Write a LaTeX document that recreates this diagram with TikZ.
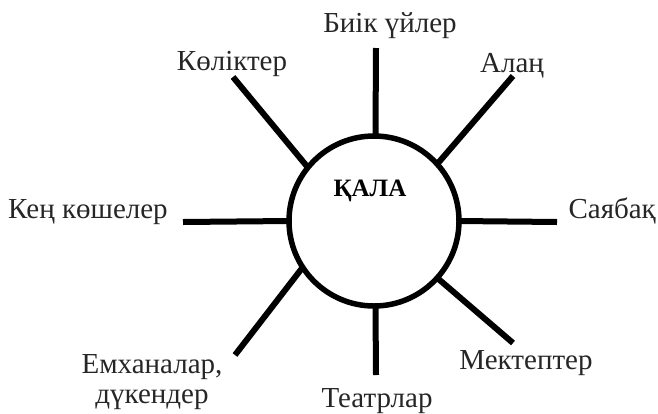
\documentclass[tikz,border=0pt]{standalone}
\usepackage{fontspec}
\setmainfont{Liberation Serif}
\usetikzlibrary{positioning}

\begin{document}
\begin{tikzpicture}[x=1pt, y=-1pt, every node/.style={font=\fontsize{29}{30}\selectfont, text=black!85, inner sep=0pt}, spoke/.style={line width=6pt}, hub/.style={draw, circle, line width=5.5pt, minimum size=170pt, outer sep=0pt}, word/.style={anchor=base}]
		\useasboundingbox (0,0) rectangle (658,413);
		% Centre circle
		\node[hub] (kala) at (374,221) {};
		\node[word, font=\fontsize{25}{27}\selectfont\bfseries, text=black] (kalaText) at (370,196) {ҚАЛА};
		% Free ends of the spokes
		\coordinate (eTop) at (376,48);
		\coordinate (eTopRight) at (513,76);
		\coordinate (eRight) at (557,222);
		\coordinate (eBotRight) at (513,343);
		\coordinate (eBot) at (376,375);
		\coordinate (eBotLeft) at (235,355);
		\coordinate (eLeft) at (183,222);
		\coordinate (eTopLeft) at (233,77);
		% Spokes
		\draw[spoke] (kala.89) -- (eTop);
		\draw[spoke] (kala.42) -- (eTopRight);
		\draw[spoke] (kala.0) -- (eRight);
		\draw[spoke] (kala.-42) -- (eBotRight);
		\draw[spoke] (kala.-89) -- (eBot);
		\draw[spoke] (kala.213) -- (eBotLeft);
		\draw[spoke] (kala.180) -- (eLeft);
		\draw[spoke] (kala.141) -- (eTopLeft);
		% Labels
		\node[word] (tall) at (390,32) {Биік үйлер};
		\node[word] (square) at (512,72) {Алаң};
		\node[word, anchor=base east] (park) at (656,218) {Саябақ};
		\node[word] (schools) at (526,369) {Мектептер};
		\node[word] (theatres) at (377,407) {Театрлар};
		\node[align=center] (shops) at (152,382) {Емханалар,\\дүкендер};
		\node[word] (streets) at (88,218) {Кең көшелер};
		\node[word] (cars) at (232,70) {Көліктер};
	\end{tikzpicture}
\end{document}
